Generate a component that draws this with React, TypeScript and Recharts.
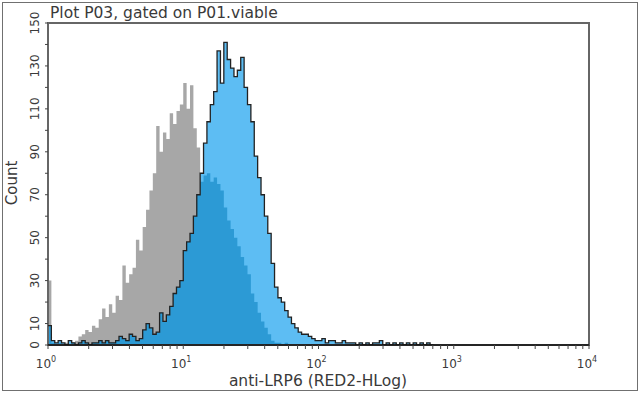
import { Area, ComposedChart, Line, ReferenceArea, XAxis, YAxis } from "recharts";

// 40 log channels per decade, bin 0 starts at 10^0
const CHANNELS_PER_DECADE = 40;

// isotype control (gray)
const grayCounts = [
  30, 1, 0, 1, 0, 1, 0, 1, 2, 4,
  5, 7, 6, 9, 8, 12, 17, 13, 19, 15,
  23, 21, 37, 29, 33, 36, 49, 44, 55, 63,
  72, 80, 102, 90, 99, 96, 108, 103, 109, 112,
  122, 110, 121, 101, 92, 76, 79, 80, 76, 78,
  75, 72, 64, 58, 54, 50, 46, 41, 37, 33,
  24, 20, 15, 11, 8, 5, 2, 1, 1, 0,
  1, 0, 0, 0, 0, 0, 0, 0, 0, 0,
  0, 0, 0, 0, 0, 0, 0, 0, 0, 0,
  0, 0, 0, 0, 0, 0, 0, 0, 0, 0,
  0, 0, 0, 0, 0, 0, 0, 0, 0, 0,
  0, 0, 0, 0, 0,
];

// anti-LRP6 (blue)
const blueCounts = [
  9, 2, 1, 2, 1, 0, 2, 1, 0, 1,
  2, 1, 0, 1, 1, 2, 1, 2, 1, 1,
  2, 4, 3, 2, 5, 4, 2, 3, 7, 10,
  8, 5, 6, 15, 11, 14, 18, 24, 27, 30,
  44, 48, 52, 60, 70, 80, 94, 104, 112, 118,
  137, 122, 141, 133, 129, 125, 128, 134, 120, 112,
  104, 88, 78, 70, 60, 52, 38, 27, 22, 20,
  16, 13, 10, 8, 6, 5, 5, 4, 3, 2,
  2, 3, 1, 2, 2, 1, 1, 2, 1, 1,
  1, 0, 1, 0, 1, 0, 1, 1, 2, 0,
  1, 0, 1, 0, 1, 0, 1, 0, 1, 0,
  1, 0, 1, 0, 0,
];

const decades = [1, 10, 100, 1000];
const multipliers = [1, 2, 3, 4, 5, 6, 7, 8, 9];
const xTicks = [...decades.flatMap((d) => multipliers.map((m) => d * m)), 10000];
const yTicks = [0, 10, 20, 30, 40, 50, 60, 70, 80, 90, 100, 110, 120, 130, 140, 150];
const yLabeled = [0, 10, 30, 50, 70, 90, 110, 130, 150];

const data = blueCounts.map((b, i) => ({
  x: Math.pow(10, i / CHANNELS_PER_DECADE),
  gray: grayCounts[i],
  blue: b,
  overlap: Math.min(b, grayCounts[i]),
}));

const FONT = '"DejaVu Sans", Verdana, sans-serif';
const TEXT = "#3a3a3a";

function XTick(props: any) {
  const { x, y, payload } = props;
  const exp = Math.round(Math.log10(payload.value));
  if (Math.pow(10, exp) !== payload.value) return <g />;
  return (
    <text x={x - 2} y={y + 17} textAnchor="middle" fontSize={12} fontFamily={FONT} fill={TEXT}>
      10
      <tspan dy={-6} fontSize={8}>{exp}</tspan>
    </text>
  );
}

function YTick(props: any) {
  const { x, y, payload } = props;
  if (!yLabeled.includes(payload.value)) return <g />;
  const bx = x - 4;
  return (
    <text x={bx} y={y} transform={`rotate(-90 ${bx} ${y})`} textAnchor="middle" fontSize={12} fontFamily={FONT} fill={TEXT}>
      {payload.value}
    </text>
  );
}

export default function App() {
  return (
    <div style={{ position: "absolute", left: 0, top: 0, width: 640, height: 395, background: "#fff" }}>
      <div style={{ position: "absolute", left: 2, top: 2, width: 634, height: 387, border: "1px solid #707070" }} />
      <div style={{ position: "absolute", left: 0, top: 0 }}>
        <ComposedChart width={640} height={395} data={data} margin={{ top: 23, right: 51, bottom: 20, left: 8 }}>
          <XAxis
            dataKey="x"
            type="number"
            scale="log"
            domain={[1, 10000]}
            allowDataOverflow
            ticks={xTicks}
            interval={0}
            tickSize={4}
            height={30}
            tick={<XTick />}
            axisLine={{ stroke: "#111", strokeWidth: 1.5 }}
            tickLine={{ stroke: "#444" }}
          />
          <YAxis
            type="number"
            domain={[0, 150]}
            allowDataOverflow
            ticks={yTicks}
            interval={0}
            tickSize={3}
            width={40}
            tick={<YTick />}
            axisLine={false}
            tickLine={{ stroke: "#444" }}
          />
          <Area type="stepAfter" dataKey="gray" stroke="none" fill="#a7a7a7" fillOpacity={1} isAnimationActive={false} />
          <Area type="stepAfter" dataKey="blue" stroke="none" fill="#5dbdf3" fillOpacity={1} isAnimationActive={false} />
          <Area type="stepAfter" dataKey="overlap" stroke="none" fill="#2c9ad5" fillOpacity={1} isAnimationActive={false} />
          <Line type="stepAfter" dataKey="blue" stroke="#222" strokeWidth={1.3} dot={false} isAnimationActive={false} />
          <ReferenceArea x1={1} x2={10000} y1={0} y2={150} fill="none" stroke="#666" strokeWidth={2} ifOverflow="visible" />
        </ComposedChart>
      </div>
      <svg width={640} height={395} style={{ position: "absolute", left: 0, top: 0, pointerEvents: "none" }}>
        <text x={50} y={18} fontSize={15.5} fontFamily={FONT} fill={TEXT}>
          Plot P03, gated on P01.viable
        </text>
        <text x={318} y={386} textAnchor="middle" fontSize={15.5} fontFamily={FONT} fill={TEXT}>
          anti-LRP6 (RED2-HLog)
        </text>
        <text x={17} y={183} transform="rotate(-90 17 183)" textAnchor="middle" fontSize={15} fontFamily={FONT} fill={TEXT}>
          Count
        </text>
      </svg>
    </div>
  );
}
